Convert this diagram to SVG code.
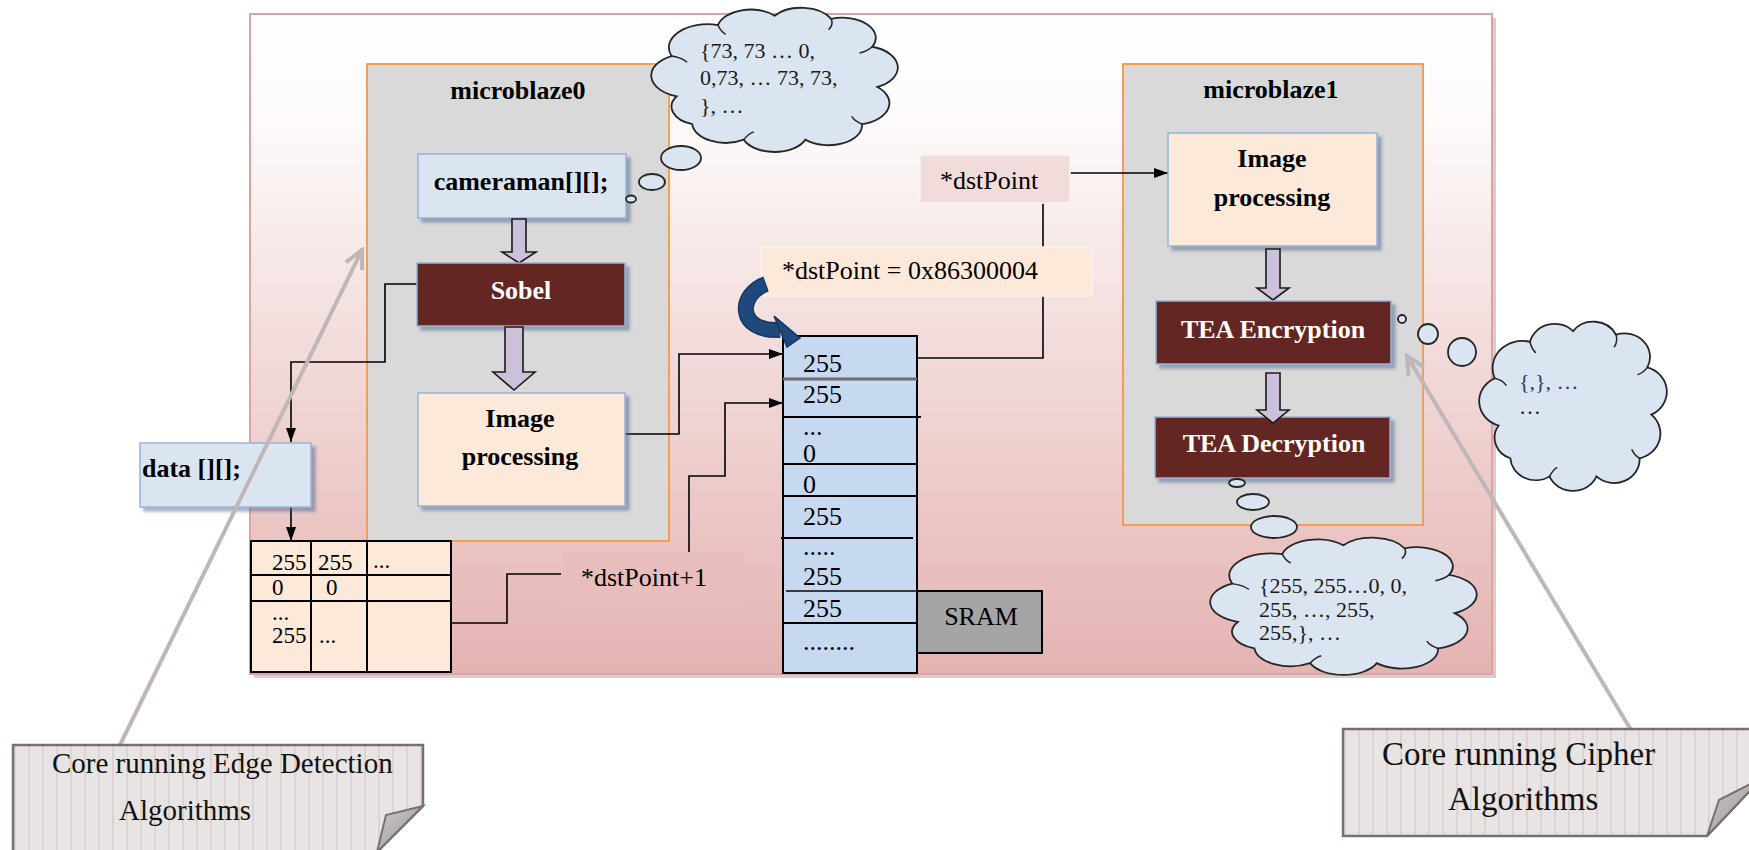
<svg xmlns="http://www.w3.org/2000/svg" width="1749" height="850" viewBox="0 0 1749 850">
<style>
.bold{font-family:"Liberation Serif","Times New Roman",serif;font-weight:bold;font-size:26px;fill:#000;}
.boldw{font-family:"Liberation Serif","Times New Roman",serif;font-weight:bold;font-size:26px;fill:#fff;}
.reg{font-family:"Liberation Serif","Times New Roman",serif;font-size:26px;fill:#000;}
.cell{font-family:"Liberation Serif","Times New Roman",serif;font-size:23px;fill:#000;}
.mem{font-family:"Liberation Serif","Times New Roman",serif;font-size:26px;fill:#000;}
.cloudtxt{font-family:"Liberation Serif","Times New Roman",serif;font-size:22px;fill:#1a1a1a;}
.notetxt{font-family:"Liberation Serif","Times New Roman",serif;fill:#111;}
.core{fill:#d9d9d9;stroke:#f79646;stroke-width:1.8;}
.bluebox{fill:#dbe5f1;stroke:#95b3d7;stroke-width:1.5;}
.peachbox{fill:#fde9d9;stroke:#95b3d7;stroke-width:1.5;}
.redbox{fill:#632523;stroke:#95b3d7;stroke-width:1.5;}
.blk{fill:#ccc0da;stroke:#1a1a1a;stroke-width:1.6;}
.conn{fill:none;stroke:#000;stroke-width:1.6;}
.cloud{fill:#dbe5f1;stroke:#262626;stroke-width:1.8;}
.cloudin{fill:none;stroke:#262626;stroke-width:1.5;}
.call{fill:none;stroke:#bfb7b7;stroke-width:4;}
.note{fill:url(#stripes);stroke:#7a6f6f;stroke-width:2.5;}
.flap{fill:url(#flapg);stroke:#7a6f6f;stroke-width:2;}
</style>
<defs>
<linearGradient id="bg" x1="0" y1="0" x2="0" y2="1">
<stop offset="0" stop-color="#ffffff"/>
<stop offset="0.18" stop-color="#fdf9f9"/>
<stop offset="0.5" stop-color="#f2dcdb"/>
<stop offset="1" stop-color="#e4b3b2"/>
</linearGradient>
<linearGradient id="flapg" x1="0" y1="0" x2="1" y2="1">
<stop offset="0" stop-color="#cfcaca"/>
<stop offset="1" stop-color="#9a9595"/>
</linearGradient>
<pattern id="stripes" patternUnits="userSpaceOnUse" width="14" height="20">
<rect width="14" height="20" fill="#e9e4e4"/>
<rect x="0" width="2" height="20" fill="#dbd4d4"/>
</pattern>
<filter id="sh" x="-10%" y="-10%" width="125%" height="130%">
<feDropShadow dx="4" dy="4" stdDeviation="1.5" flood-color="#3b5a85" flood-opacity="0.45"/>
</filter>
<marker id="ah" viewBox="0 0 14 10" refX="14" refY="5" markerWidth="14" markerHeight="10" markerUnits="userSpaceOnUse" orient="auto">
<path d="M0,0 L14,5 L0,10 Z" fill="#000"/>
</marker>
<marker id="vh" viewBox="0 0 24 24" refX="21" refY="12" markerWidth="24" markerHeight="24" markerUnits="userSpaceOnUse" orient="auto">
<path d="M3,3 L21,12 L3,21" fill="none" stroke="#bfb7b7" stroke-width="4"/>
</marker>
</defs>

<rect width="1749" height="850" fill="#ffffff"/>

<g id="board">
<rect x="254" y="18" width="1242" height="660" fill="#b9a3a3" opacity="0.55"/>
<rect x="250" y="14" width="1242" height="660" fill="url(#bg)" stroke="#dda3a2" stroke-width="2"/>
</g>

<g id="microblaze0">
<rect class="core" x="367" y="64" width="302" height="477"/>
<text class="bold" x="518" y="99" text-anchor="middle">microblaze0</text>
</g>
<g id="microblaze1">
<rect class="core" x="1123" y="64" width="300" height="461"/>
<text class="bold" x="1271" y="98" text-anchor="middle">microblaze1</text>
</g>

<g id="connectors">
<path class="conn" d="M418,284 H385 V362 H291 V442" marker-end="url(#ah)"/>
<path class="conn" d="M291,507 V541" marker-end="url(#ah)"/>
<path class="conn" d="M451,623 H507 V574 H561"/>
<path class="conn" d="M689,552 V476 H725 V403 H783" marker-end="url(#ah)"/>
<path class="conn" d="M625,434 H679 V354 H783" marker-end="url(#ah)"/>
<path class="conn" d="M917,358 H1043 V203"/>
<path class="conn" d="M1070,173 H1168" marker-end="url(#ah)"/>
</g>

<g id="cameraman">
<rect class="bluebox" x="418" y="154" width="208" height="64" filter="url(#sh)"/>
<text class="bold" x="521" y="190" text-anchor="middle">cameraman[][];</text>
</g>
<g id="arrow-cam-sobel">
<path class="blk" d="M512,219 H526 V252 H536 L519,263 L502,252 H512 Z"/>
</g>
<g id="sobel">
<rect class="redbox" x="417" y="263" width="208" height="63" filter="url(#sh)"/>
<text class="boldw" x="521" y="299" text-anchor="middle">Sobel</text>
</g>
<g id="arrow-sobel-img">
<path class="blk" d="M505,327 H523 V372 H535 L514,390 L493,372 H505 Z"/>
</g>
<g id="imgproc0">
<rect class="peachbox" x="418" y="393" width="207" height="113" filter="url(#sh)"/>
<text class="bold" x="520" y="427" text-anchor="middle">Image</text>
<text class="bold" x="520" y="465" text-anchor="middle">processing</text>
</g>

<g id="data">
<rect class="bluebox" x="140" y="443" width="171" height="64" filter="url(#sh)"/>
<text class="bold" x="142" y="477">data [][];</text>
</g>
<g id="table">
<rect x="251" y="541" width="200" height="131" fill="#fde9d9" stroke="#000" stroke-width="2"/>
<path d="M311,541 V672 M367,541 V672 M251,575 H451 M251,601 H451" stroke="#000" stroke-width="2" fill="none"/>
<text class="cell" x="272" y="570">255</text>
<text class="cell" x="318" y="570">255</text>
<text class="cell" x="373" y="568" font-size="16">...</text>
<text class="cell" x="272" y="595">0</text>
<text class="cell" x="326" y="595">0</text>
<text class="cell" x="272" y="620" font-size="16">...</text>
<text class="cell" x="272" y="643">255</text>
<text class="cell" x="319" y="643" font-size="16">...</text>
</g>

<g id="dstPoint1">
<rect x="563" y="552" width="181" height="50" fill="#e8bebd"/>
<text class="reg" x="581" y="586">*dstPoint+1</text>
</g>

<g id="sram">
<rect x="783" y="336" width="134" height="337" fill="#c6d9f1" stroke="#000" stroke-width="2"/>
<path d="M783,379 H917" stroke="#6d6d6d" stroke-width="3"/>
<path d="M783,417 H921 M783,464 H917 M783,496 H917 M781,538 H913 M783,623 H920" stroke="#000" stroke-width="1.8" fill="none"/>
<path d="M786,591 H917" stroke="#3a3a3a" stroke-width="2.2"/>
<text class="mem" x="803" y="372">255</text>
<text class="mem" x="803" y="403">255</text>
<text class="mem" x="803" y="435" font-size="16">...</text>
<text class="mem" x="803" y="462">0</text>
<text class="mem" x="803" y="493">0</text>
<text class="mem" x="803" y="525">255</text>
<text class="mem" x="803" y="555" font-size="16">.....</text>
<text class="mem" x="803" y="585">255</text>
<text class="mem" x="803" y="617">255</text>
<text class="mem" x="803" y="650" font-size="16">........</text>
</g>
<g id="sram-label">
<rect x="917" y="591" width="125" height="62" fill="#a5a5a5" stroke="#000" stroke-width="2"/>
<text class="reg" x="981" y="625" font-size="29" text-anchor="middle">SRAM</text>
</g>

<g id="dstPointAssign">
<rect x="761" y="247" width="331" height="49" fill="#fde9d9" stroke="#fbf3ee" stroke-width="1.5"/>
<text class="reg" x="782" y="279">*dstPoint = 0x86300004</text>
</g>
<g id="curved-arrow">
<path d="M766,284 C738,294 736,332 780,330" fill="none" stroke="#17375e" stroke-width="16"/>
<path d="M766,284 C738,294 736,332 780,330" fill="none" stroke="#1f497d" stroke-width="13"/>
<path d="M774,316 L800,338 L787,347 Z" fill="#1f497d" stroke="#17375e" stroke-width="1.5"/>
</g>
<g id="dstPoint">
<rect x="920" y="155" width="150" height="48" fill="#f2dcdb" stroke="#fbf3f3" stroke-width="1.5"/>
<text class="reg" x="940" y="189">*dstPoint</text>
</g>

<g id="imgproc1">
<rect class="peachbox" x="1168" y="133" width="209" height="113" filter="url(#sh)"/>
<text class="bold" x="1272" y="167" text-anchor="middle">Image</text>
<text class="bold" x="1272" y="206" text-anchor="middle">processing</text>
</g>
<g id="arrow-img-enc">
<path class="blk" d="M1266,249 H1280 V288 H1289 L1273,300 L1257,288 H1266 Z"/>
</g>
<g id="tea-enc">
<rect class="redbox" x="1156" y="301" width="235" height="63" filter="url(#sh)"/>
<text class="boldw" x="1273" y="338" text-anchor="middle">TEA Encryption</text>
</g>
<g id="tea-dec">
<rect class="redbox" x="1155" y="417" width="235" height="61" filter="url(#sh)"/>
<text class="boldw" x="1274" y="452" text-anchor="middle">TEA Decryption</text>
</g>
<g id="arrow-enc-dec">
<path class="blk" d="M1266,373 H1280 V410 H1289 L1273,423 L1257,410 H1266 Z"/>
</g>

<g id="cloud-cameraman">
<ellipse class="cloud" cx="631" cy="199" rx="5" ry="3.5"/>
<ellipse class="cloud" cx="652" cy="182" rx="13" ry="8"/>
<ellipse class="cloud" cx="681" cy="158" rx="20" ry="12"/>
<g transform="translate(645.9,0.3) scale(2.573,1.548)">
<path class="cloud" vector-effect="non-scaling-stroke" d="M12,62 A14,14 0 0 1 10,36 A15,15 0 0 1 28,16 A13,13 0 0 1 50,10 A13,13 0 0 1 72,12 A13,13 0 0 1 88,30 A14,14 0 0 1 90,56 A14,14 0 0 1 84,80 A13,13 0 0 1 62,90 A13,13 0 0 1 38,90 A13,13 0 0 1 18,80 A12,12 0 0 1 12,62 Z"/>
<path class="cloudin" vector-effect="non-scaling-stroke" d="M10,36 Q14,37 16,40 M28,16 Q29,20 31,22 M72,12 Q73,16 71,19 M88,30 Q86,33 83,34 M84,80 Q81,78 80,75 M38,90 Q40,86 42,85"/>
</g>
<text class="cloudtxt" x="700" y="58">{73, 73 …  0,</text>
<text class="cloudtxt" x="700" y="85">0,73, … 73, 73,</text>
<text class="cloudtxt" x="700" y="113">}, …</text>
</g>
<g id="cloud-enc">
<circle class="cloud" cx="1402" cy="319" r="4"/>
<circle class="cloud" cx="1428" cy="334" r="10"/>
<circle class="cloud" cx="1462" cy="352" r="14"/>
<g transform="translate(1475.1,312.9) scale(1.958,1.817)">
<path class="cloud" vector-effect="non-scaling-stroke" d="M12,62 A14,14 0 0 1 10,36 A15,15 0 0 1 28,16 A13,13 0 0 1 50,10 A13,13 0 0 1 72,12 A13,13 0 0 1 88,30 A14,14 0 0 1 90,56 A14,14 0 0 1 84,80 A13,13 0 0 1 62,90 A13,13 0 0 1 38,90 A13,13 0 0 1 18,80 A12,12 0 0 1 12,62 Z"/>
<path class="cloudin" vector-effect="non-scaling-stroke" d="M10,36 Q14,37 16,40 M28,16 Q29,20 31,22 M72,12 Q73,16 71,19 M88,30 Q86,33 83,34 M84,80 Q81,78 80,75 M38,90 Q40,86 42,85"/>
</g>
<text class="cloudtxt" x="1519" y="389" style="fill:#1f3f6a">{,}, …</text>
<text class="cloudtxt" x="1519" y="414">…</text>
</g>
<g id="cloud-dec">
<ellipse class="cloud" cx="1237" cy="483" rx="8" ry="4"/>
<ellipse class="cloud" cx="1253" cy="502" rx="16" ry="8"/>
<ellipse class="cloud" cx="1274" cy="527" rx="23" ry="11"/>
<g transform="translate(1204.4,530.6) scale(2.781,1.473)">
<path class="cloud" vector-effect="non-scaling-stroke" d="M12,62 A14,14 0 0 1 10,36 A15,15 0 0 1 28,16 A13,13 0 0 1 50,10 A13,13 0 0 1 72,12 A13,13 0 0 1 88,30 A14,14 0 0 1 90,56 A14,14 0 0 1 84,80 A13,13 0 0 1 62,90 A13,13 0 0 1 38,90 A13,13 0 0 1 18,80 A12,12 0 0 1 12,62 Z"/>
<path class="cloudin" vector-effect="non-scaling-stroke" d="M10,36 Q14,37 16,40 M28,16 Q29,20 31,22 M72,12 Q73,16 71,19 M88,30 Q86,33 83,34 M84,80 Q81,78 80,75 M38,90 Q40,86 42,85"/>
</g>
<text class="cloudtxt" x="1259" y="593">{255, 255…0, 0,</text>
<text class="cloudtxt" x="1259" y="617">255, …, 255,</text>
<text class="cloudtxt" x="1259" y="640">255,}, …</text>
</g>

<g id="callout-connectors">
<path class="call" d="M120,745 L362,250" marker-end="url(#vh)"/>
<path class="call" d="M1631,730 L1407,356" marker-end="url(#vh)"/>
</g>
<g id="note-edge">
<path class="note" d="M13,745 H423 V806 L377,852 H13 Z"/>
<path class="flap" d="M423,806 L386,815 L377,852 Z"/>
<text class="notetxt" x="52" y="773" font-size="29">Core running Edge Detection</text>
<text class="notetxt" x="119" y="820" font-size="29">Algorithms</text>
</g>
<g id="note-cipher">
<path class="note" d="M1343,729 H1762 V778 L1707,836 H1343 Z"/>
<path class="flap" d="M1707,836 L1719,800 L1762,778 Z"/>
<text class="notetxt" x="1382" y="765" font-size="33">Core running Cipher</text>
<text class="notetxt" x="1448" y="810" font-size="33">Algorithms</text>
</g>
</svg>
